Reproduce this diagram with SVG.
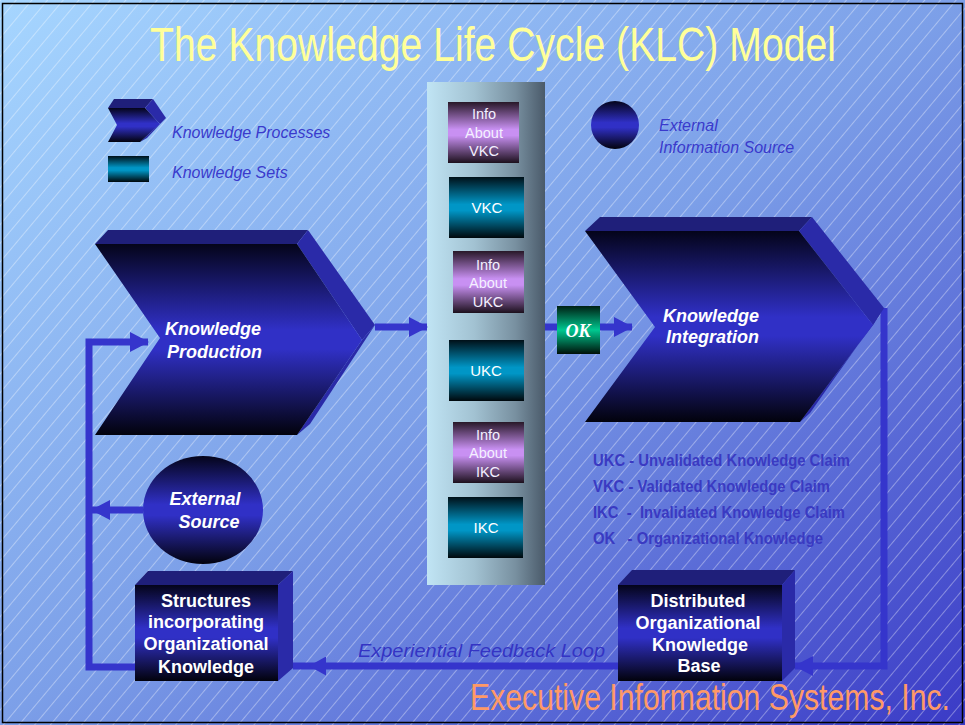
<svg xmlns="http://www.w3.org/2000/svg" width="965" height="725" viewBox="0 0 965 725">
<defs>
<linearGradient id="bg" x1="0" y1="0" x2="1" y2="1">
<stop offset="0" stop-color="#a6d6ff"/>
<stop offset="0.5" stop-color="#7c9fe8"/>
<stop offset="1" stop-color="#3a3ac6"/>
</linearGradient>
<pattern id="hatch" patternUnits="userSpaceOnUse" width="12" height="12" patternTransform="rotate(40)">
<line x1="0.5" y1="0" x2="0.5" y2="12" stroke="#ffffff" stroke-opacity="0.45" stroke-width="0.8"/>
</pattern>
<linearGradient id="navy" x1="0" y1="0" x2="0" y2="1">
<stop offset="0" stop-color="#04041a"/>
<stop offset="0.45" stop-color="#3030c6"/>
<stop offset="0.55" stop-color="#3030c6"/>
<stop offset="1" stop-color="#02020c"/>
</linearGradient>
<linearGradient id="purple" x1="0" y1="0" x2="0" y2="1">
<stop offset="0" stop-color="#281828"/>
<stop offset="0.45" stop-color="#c890f2"/>
<stop offset="0.55" stop-color="#c890f2"/>
<stop offset="1" stop-color="#1c101c"/>
</linearGradient>
<linearGradient id="teal" x1="0" y1="0" x2="0" y2="1">
<stop offset="0" stop-color="#001018"/>
<stop offset="0.45" stop-color="#0096c6"/>
<stop offset="0.55" stop-color="#0096c6"/>
<stop offset="1" stop-color="#00080c"/>
</linearGradient>
<linearGradient id="green" x1="0" y1="0" x2="0" y2="1">
<stop offset="0" stop-color="#002014"/>
<stop offset="0.5" stop-color="#00c890"/>
<stop offset="1" stop-color="#001008"/>
</linearGradient>
<linearGradient id="column" x1="0" y1="0" x2="1" y2="0">
<stop offset="0" stop-color="#c0e4f4"/>
<stop offset="0.4" stop-color="#a2c2d2"/>
<stop offset="0.75" stop-color="#7890a0"/>
<stop offset="1" stop-color="#4a5a6a"/>
</linearGradient>
<marker id="arrow" markerUnits="userSpaceOnUse" markerWidth="19" markerHeight="20" viewBox="0 0 19 20" refX="18" refY="10" orient="auto">
<path d="M0,0 L19,10 L0,20 z" fill="#3535cc"/>
</marker>
<marker id="arrowmid" markerUnits="userSpaceOnUse" markerWidth="17" markerHeight="19" viewBox="0 0 17 19" refX="0" refY="9.5" orient="auto">
<path d="M0,0 L17,9.5 L0,19 z" fill="#3535cc"/>
</marker>
</defs>
<style>
.top{fill:#1f1f7a}
.side{fill:#2a2aa8}
.front{fill:url(#navy)}
.conn{fill:none;stroke:#3535cc;stroke-width:7}
.wt{font-family:"Liberation Sans",Arial,sans-serif;fill:#ffffff;font-weight:bold}
.wti{font-family:"Liberation Sans",Arial,sans-serif;fill:#ffffff;font-weight:bold;font-style:italic;font-size:18px}
.info{font-family:"Liberation Sans",Arial,sans-serif;fill:#f4f0ff;font-size:14.5px;text-anchor:middle}
.set{font-family:"Liberation Sans",Arial,sans-serif;fill:#ffffff;font-size:15px;text-anchor:middle}
.blue{font-family:"Liberation Sans",Arial,sans-serif;fill:#3a3acc;font-style:italic;font-size:16px}
.abbr{font-family:"Liberation Sans",Arial,sans-serif;fill:#3a3ac2;font-size:16px;font-weight:bold}
</style>

<rect x="0" y="0" width="965" height="725" fill="url(#bg)"/>
<rect x="0" y="0" width="965" height="725" fill="url(#hatch)"/>
<rect x="2.5" y="3.5" width="960" height="719" fill="none" stroke="#000000" stroke-width="1.5"/>

<text transform="translate(150,61) scale(1,1.2)" x="0" y="0" font-family="'Liberation Sans',Arial,sans-serif" font-size="40" fill="#ffff99" textLength="686" lengthAdjust="spacingAndGlyphs">The Knowledge Life Cycle (KLC) Model</text>

<g id="legend">
<polygon class="top" points="108,108 114,99 153,99 145,108"/>
<polygon class="side" points="145,108 153,99 166,118 160,124"/>
<polygon class="side" points="160,124 166,118 147,138 140,142"/>
<polygon class="front" points="108,108 145,108 160,124 140,142 108,142 117,125"/>
<text class="blue" x="172" y="138">Knowledge Processes</text>
<rect x="108" y="156" width="41" height="26" fill="url(#teal)"/>
<text class="blue" x="172" y="178">Knowledge Sets</text>
<ellipse cx="615" cy="125" rx="24" ry="24" fill="url(#navy)"/>
<text class="blue" x="659" y="131">External</text>
<text class="blue" x="659" y="153">Information Source</text>
</g>

<g id="column-sets">
<rect x="427" y="82" width="118" height="503" fill="url(#column)"/>
<g id="info-vkc">
<rect x="448" y="102" width="71" height="61" fill="url(#purple)"/>
<text class="info" x="484" y="119">Info</text>
<text class="info" x="484" y="138">About</text>
<text class="info" x="484" y="156">VKC</text>
</g>
<g id="vkc">
<rect x="449" y="177" width="75" height="61" fill="url(#teal)"/>
<text class="set" x="487" y="213">VKC</text>
</g>
<g id="info-ukc">
<rect x="453" y="251" width="71" height="62" fill="url(#purple)"/>
<text class="info" x="488" y="270">Info</text>
<text class="info" x="488" y="288">About</text>
<text class="info" x="488" y="307">UKC</text>
</g>
<g id="ukc">
<rect x="449" y="340" width="75" height="61" fill="url(#teal)"/>
<text class="set" x="486" y="376">UKC</text>
</g>
<g id="info-ikc">
<rect x="453" y="422" width="71" height="61" fill="url(#purple)"/>
<text class="info" x="488" y="440">Info</text>
<text class="info" x="488" y="458">About</text>
<text class="info" x="488" y="477">IKC</text>
</g>
<g id="ikc">
<rect x="448" y="497" width="75" height="61" fill="url(#teal)"/>
<text class="set" x="486" y="533">IKC</text>
</g>
</g>

<g id="connectors">
<path class="conn" d="M375,327 H427" marker-end="url(#arrow)"/>
<path class="conn" d="M545,327 H557"/>
<path class="conn" d="M600,327 H632" marker-end="url(#arrow)"/>
<path class="conn" d="M884,308 V666 H795" marker-end="url(#arrow)"/>
<path class="conn" d="M618,666 H326 H293" marker-mid="url(#arrowmid)"/>
<path class="conn" d="M135,667 H89 V342 H148" marker-end="url(#arrow)"/>
<path class="conn" d="M143,510 H92" marker-end="url(#arrow)"/>
</g>

<g id="knowledge-production">
<polygon class="top" points="95,244 108,230 308,230 297,244"/>
<polygon class="side" points="297,244 308,230 375,325 362,340"/>
<polygon class="side" points="362,340 375,325 310,424 297,435"/>
<polygon class="front" points="95,244 297,244 362,340 297,435 95,435 160,338"/>
<text class="wti" x="165" y="335">Knowledge</text>
<text class="wti" x="167" y="358">Production</text>
</g>

<g id="ok">
<rect x="557" y="306" width="43" height="48" fill="url(#green)"/>
<text x="578" y="337" font-family="'Liberation Serif','Times New Roman',serif" font-size="18" font-weight="bold" font-style="italic" fill="#ffffff" text-anchor="middle">OK</text>
</g>

<g id="knowledge-integration">
<polygon class="top" points="585,231 600,217 812,217 799,231"/>
<polygon class="side" points="799,231 812,217 884,308 873,325"/>
<polygon class="side" points="873,325 884,308 810,413 800,422"/>
<polygon class="front" points="585,231 799,231 873,325 800,422 585,422 655,327"/>
<text class="wti" x="663" y="322">Knowledge</text>
<text class="wti" x="666" y="343">Integration</text>
</g>

<g id="abbreviations">
<text class="abbr" x="593" y="466" textLength="257" lengthAdjust="spacingAndGlyphs">UKC - Unvalidated Knowledge Claim</text>
<text class="abbr" x="593" y="492" textLength="237" lengthAdjust="spacingAndGlyphs">VKC - Validated Knowledge Claim</text>
<text class="abbr" x="593" y="518" textLength="252" lengthAdjust="spacingAndGlyphs" xml:space="preserve">IKC  -  Invalidated Knowledge Claim</text>
<text class="abbr" x="593" y="544" textLength="230" lengthAdjust="spacingAndGlyphs" xml:space="preserve">OK   - Organizational Knowledge</text>
</g>

<g id="external-source">
<ellipse cx="203" cy="510" rx="60" ry="54" fill="url(#navy)"/>
<text class="wti" x="205" y="505" text-anchor="middle">External</text>
<text class="wti" x="209" y="528" text-anchor="middle">Source</text>
</g>

<g id="structures">
<polygon class="top" points="135,585 148,571 293,571 278,585"/>
<polygon class="side" points="278,585 293,571 293,668 278,681"/>
<rect class="front" x="135" y="585" width="143" height="96"/>
<text class="wt" font-size="18" text-anchor="middle" x="206" y="607">Structures</text>
<text class="wt" font-size="18" text-anchor="middle" x="206" y="628">incorporating</text>
<text class="wt" font-size="18" text-anchor="middle" x="206" y="650">Organizational</text>
<text class="wt" font-size="18" text-anchor="middle" x="206" y="673">Knowledge</text>
</g>

<g id="distributed-base">
<polygon class="top" points="618,585 632,570 795,570 782,585"/>
<polygon class="side" points="782,585 795,570 795,668 782,681"/>
<rect class="front" x="618" y="585" width="164" height="96"/>
<text class="wt" font-size="18" text-anchor="middle" x="698" y="607">Distributed</text>
<text class="wt" font-size="18" text-anchor="middle" x="698" y="629">Organizational</text>
<text class="wt" font-size="18" text-anchor="middle" x="700" y="651">Knowledge</text>
<text class="wt" font-size="18" text-anchor="middle" x="699" y="672">Base</text>
</g>

<text class="blue" x="358" y="657" textLength="247" lengthAdjust="spacingAndGlyphs" style="font-size:19px;fill:#3434c4">Experiential Feedback Loop</text>

<text transform="translate(470,710) scale(1,1.2)" x="0" y="0" font-family="'Liberation Sans',Arial,sans-serif" font-size="31" fill="#ff9966" textLength="480" lengthAdjust="spacingAndGlyphs">Executive Information Systems, Inc.</text>
</svg>
